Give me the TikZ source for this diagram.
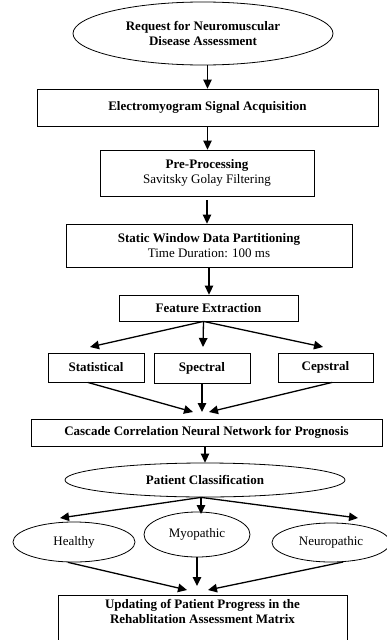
\documentclass[tikz,border=0pt]{standalone}
\usepackage{fontspec}
\setmainfont{Liberation Serif}
\usetikzlibrary{shapes.geometric,arrows.meta}

\begin{document}
\begin{tikzpicture}[x=1pt,y=-1pt,
  box/.style={draw, rectangle, line width=0.8pt, inner sep=0pt, align=center, font=\fontsize{13}{15}\selectfont},
  oval/.style={draw, ellipse, line width=0.8pt, inner sep=0pt, align=center, font=\fontsize{13}{15}\selectfont},
  arr/.style={line width=1.3pt, -{Triangle[length=9pt,width=8.5pt]}}]
  \useasboundingbox (0,0) rectangle (386,640);

  \node[oval, minimum width=260, minimum height=63] (req) at (203,33.5) {\textbf{Request for Neuromuscular}\\\textbf{Disease Assessment}};
  \node[box, minimum width=341, minimum height=37] (emg) at (207.5,107.5) {\textbf{Electromyogram Signal Acquisition}};
  \node[box, minimum width=214, minimum height=46] (pre) at (207,173) {\textbf{Pre-Processing}\\Savitsky Golay Filtering};
  \node[box, minimum width=286, minimum height=43] (swin) at (209,245.5) {\textbf{Static Window Data Partitioning}\\Time Duration: 100 ms};
  \node[box, minimum width=179, minimum height=26] (feat) at (208.5,308) {\textbf{Feature Extraction}};
  \node[box, minimum width=96, minimum height=29] (stat) at (96,367.5) {\textbf{Statistical}};
  \node[box, minimum width=96, minimum height=30] (spec) at (202,368) {\textbf{Spectral}};
  \node[box, minimum width=95, minimum height=29] (ceps) at (325.5,367.5) {\textbf{Cepstral}};
  \node[box, minimum width=351, minimum height=27] (ccnn) at (206.5,432.5) {\textbf{Cascade Correlation Neural Network for Prognosis}};
  \node[oval, minimum width=280, minimum height=34] (pcls) at (205,480) {\textbf{Patient Classification}};
  \node[oval, minimum width=122, minimum height=40] (healthy) at (74,542) {Healthy};
  \node[oval, minimum width=106, minimum height=45] (myo) at (197,534.5) {Myopathic};
  \node[oval, minimum width=118, minimum height=39] (neuro) at (331,542.5) {Neuropathic};
  \node[box, minimum width=289, anchor=north, inner ysep=4pt, text depth=40pt] (upd) at (202.5,595) {\textbf{Updating of Patient Progress in the}\\\textbf{Rehablitation Assessment Matrix}};

  \coordinate (fout) at ([xshift=-5pt]feat.south);
  \coordinate (sin1) at (90,347);
  \coordinate (sin2) at (203,347);
  \coordinate (sin3) at (323,347);
  \coordinate (cin1) at (193,412);
  \coordinate (cin2) at (202,412);
  \coordinate (cin3) at (209,412);
  \coordinate (pout) at ([xshift=-4pt]pcls.south);
  \coordinate (pin1) at (60,518);
  \coordinate (pin2) at (201,514);
  \coordinate (pin3) at (358,518);
  \coordinate (uin1) at (187,590);
  \coordinate (uin2) at (197,586);
  \coordinate (uin3) at (208,590);

  \draw[arr] (emg.north |- req.south) -- (emg.north);
  \draw[arr] (emg.south) -- (emg.south |- pre.north);
  \draw[arr] ([yshift=-4pt]pre.south) -- (pre.south |- swin.north);
  \draw[arr] (swin.south) -- (swin.south |- feat.north);
  \draw[arr] (fout) -- (sin1);
  \draw[arr] (fout) -- (sin2);
  \draw[arr] (fout) -- (sin3);
  \draw[arr] (stat.-119) -- (cin1);
  \draw[arr] (spec.south) -- (cin2);
  \draw[arr] (ceps.-66) -- (cin3);
  \draw[arr] (ccnn.south -| pcls.north) -- (pcls.north);
  \draw[arr] (pout) -- (pin1);
  \draw[arr] (pout) -- (pin2);
  \draw[arr] (pout) -- (pin3);
  \draw[arr] (healthy.-107) -- (uin1);
  \draw[arr] (myo.south) -- (uin2);
  \draw[arr] (neuro.-58) -- (uin3);
\end{tikzpicture}
\end{document}
